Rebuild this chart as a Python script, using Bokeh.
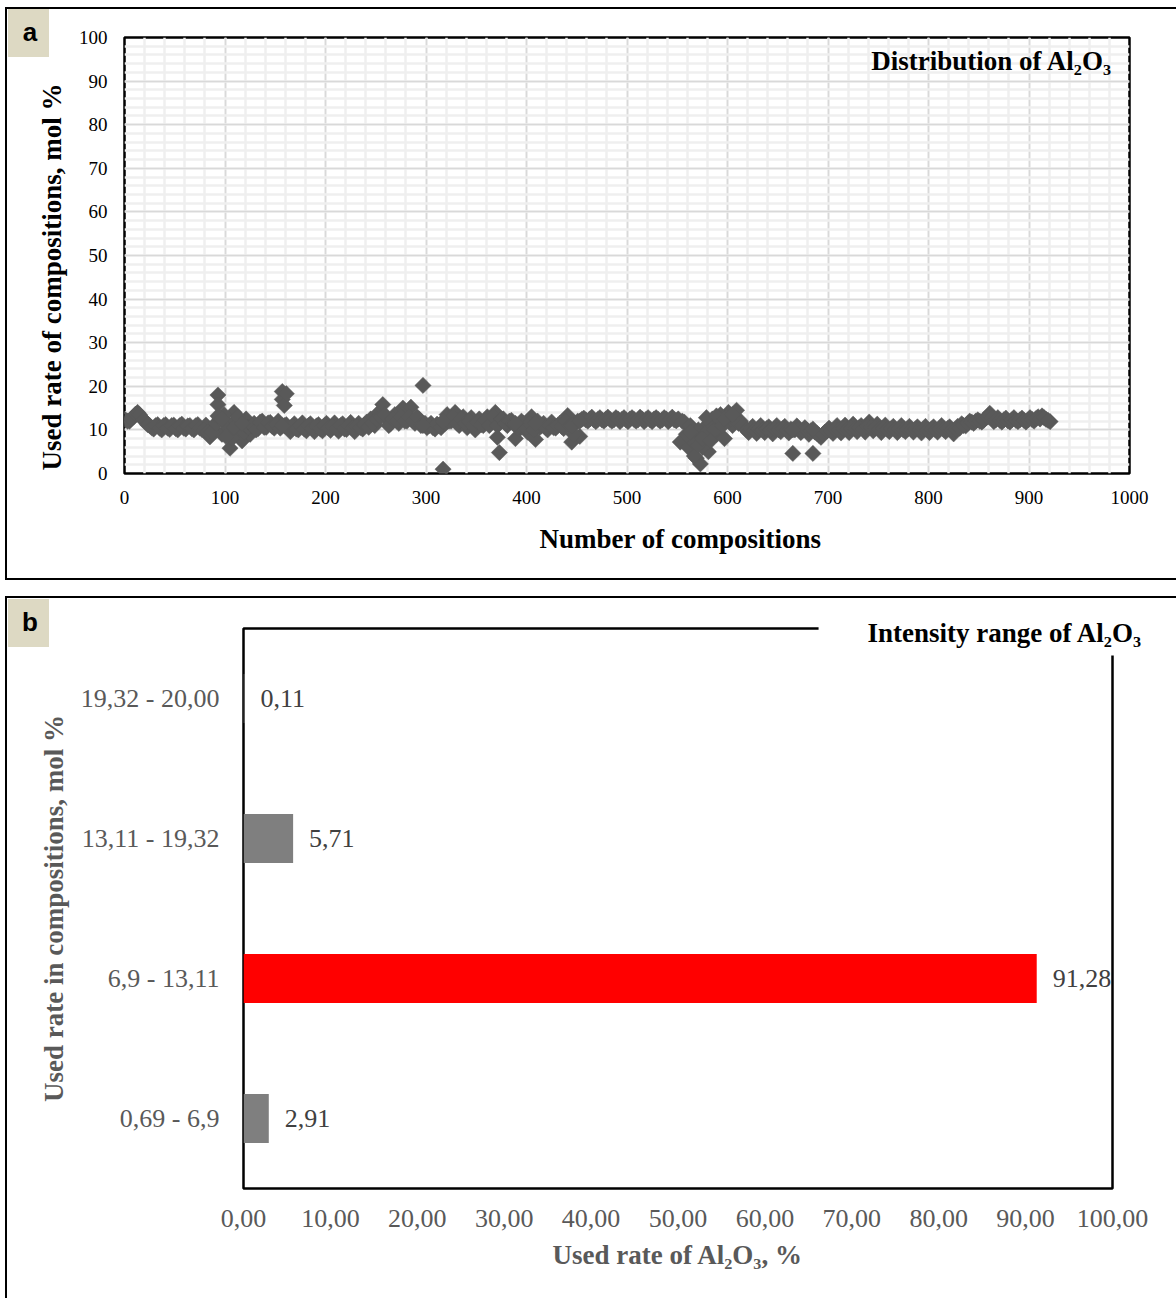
import numpy as np
from bokeh.core.properties import value
from bokeh.embed import file_html
from bokeh.models import (ColumnDataSource, Div, FactorRange, FixedTicker, Label,
                          LabelSet, Range1d, SingleIntervalTicker, Title)
from bokeh.plotting import figure
from bokeh.resources import INLINE

SERIF = "Liberation Serif"
SANS = "Liberation Sans"

# ---- panel a: Al2O3 content of every composition (mol %) ----
comp_no = [
    1, 5, 9, 13, 17, 21, 25, 29, 33, 37,
    41, 45, 49, 53, 57, 61, 65, 69, 73, 77,
    81, 85, 89, 93, 97, 101, 105, 109, 113, 117,
    121, 125, 129, 133, 137, 141, 145, 149, 153, 157,
    161, 165, 169, 173, 177, 181, 185, 189, 193, 197,
    201, 205, 209, 213, 217, 221, 225, 229, 233, 237,
    241, 245, 249, 253, 257, 261, 265, 269, 273, 277,
    281, 285, 289, 293, 297, 301, 305, 309, 313, 317,
    321, 325, 329, 333, 337, 341, 345, 349, 353, 357,
    361, 365, 369, 373, 377, 381, 385, 389, 393, 397,
    401, 405, 409, 413, 417, 421, 425, 429, 433, 437,
    441, 445, 449, 453, 457, 461, 465, 469, 473, 477,
    481, 485, 489, 493, 497, 501, 505, 509, 513, 517,
    521, 525, 529, 533, 537, 541, 545, 549, 553, 557,
    561, 565, 569, 573, 577, 581, 585, 589, 593, 597,
    601, 605, 609, 613, 617, 621, 625, 629, 633, 637,
    641, 645, 649, 653, 657, 661, 665, 669, 673, 677,
    681, 685, 689, 693, 697, 701, 705, 709, 713, 717,
    721, 725, 729, 733, 737, 741, 745, 749, 753, 757,
    761, 765, 769, 773, 777, 781, 785, 789, 793, 797,
    801, 805, 809, 813, 817, 821, 825, 829, 833, 837,
    841, 845, 849, 853, 857, 861, 865, 869, 873, 877,
    881, 885, 889, 893, 897, 901, 905, 909, 913, 917,
    921,
]
al2o3_mol = [
    12.3, 12.0, 13.0, 14.0, 12.8, 11.8, 11.0, 10.2, 11.2, 10.0,
    11.2, 10.1, 11.1, 10.0, 11.3, 10.2, 11.0, 10.0, 11.2, 10.1,
    11.1, 8.4, 10.0, 18.0, 9.0, 12.0, 5.8, 14.0, 10.0, 7.5,
    12.5, 9.0, 11.5, 10.3, 12.0, 10.6, 11.7, 10.4, 12.0, 18.8,
    11.2, 9.6, 11.4, 10.0, 11.6, 9.8, 11.4, 9.6, 11.2, 9.8,
    11.5, 9.9, 11.6, 9.7, 11.4, 10.1, 11.7, 9.6, 11.5, 10.2,
    11.8, 12.5, 11.0, 14.0, 15.8, 12.8, 11.5, 13.5, 11.5, 15.0,
    12.0, 15.2, 11.5, 12.5, 20.2, 10.5, 11.5, 10.2, 11.0, 1.0,
    13.5, 12.0, 14.0, 11.0, 13.0, 10.5, 12.8, 10.0, 12.5, 11.0,
    13.0, 12.0, 14.0, 11.5, 12.5, 11.0, 12.2, 8.0, 10.2, 11.5,
    9.5, 13.0, 7.8, 10.5, 11.5, 10.0, 11.8, 10.4, 11.5, 10.3,
    13.3, 7.2, 11.5, 8.5, 12.7, 12.0, 12.9, 11.9, 12.8, 12.0,
    12.9, 12.0, 12.8, 11.9, 12.8, 11.9, 12.8, 12.0, 12.9, 11.9,
    12.8, 11.9, 12.8, 12.0, 12.8, 11.9, 12.9, 12.1, 7.2, 11.8,
    6.0, 8.5, 3.5, 2.2, 10.5, 5.0, 12.5, 9.0, 13.5, 8.0,
    14.0, 11.0, 14.5, 12.0, 10.5, 9.4, 10.8, 9.2, 11.0, 9.4,
    10.7, 9.1, 11.0, 9.6, 10.8, 9.3, 4.6, 10.9, 9.4, 10.5,
    9.0, 4.6, 9.2, 8.3, 9.5, 10.4, 9.2, 11.0, 9.3, 11.1,
    9.4, 11.3, 9.6, 11.0, 9.5, 11.8, 9.8, 11.3, 9.4, 11.1,
    9.6, 10.8, 9.4, 11.0, 9.6, 10.8, 9.5, 10.7, 9.3, 10.8,
    9.4, 10.7, 9.5, 11.0, 9.6, 10.7, 9.1, 10.8, 11.4, 10.9,
    12.0, 11.5, 12.3, 11.8, 12.7, 13.8, 11.9, 12.8, 11.8, 12.7,
    11.8, 12.8, 11.9, 12.7, 11.8, 12.8, 12.0, 13.0, 13.2, 12.4,
    11.9,
]
# the compositions numbered in between
comp_no_mid = [
    3, 7, 11, 15, 19, 23, 27, 31, 35, 39,
    43, 47, 51, 55, 59, 63, 67, 71, 75, 79,
    83, 87, 91, 95, 99, 103, 107, 111, 115, 119,
    123, 127, 131, 135, 139, 143, 147, 151, 155, 159,
    163, 167, 171, 175, 179, 183, 187, 191, 195, 199,
    203, 207, 211, 215, 219, 223, 227, 231, 235, 239,
    243, 247, 251, 255, 259, 263, 267, 271, 275, 279,
    283, 287, 291, 295, 299, 303, 307, 311, 315, 319,
    323, 327, 331, 335, 339, 343, 347, 351, 355, 359,
    363, 367, 371, 375, 379, 383, 387, 391, 395, 399,
    403, 407, 411, 415, 419, 423, 427, 431, 435, 439,
    443, 447, 451, 455, 459, 463, 467, 471, 475, 479,
    483, 487, 491, 495, 499, 503, 507, 511, 515, 519,
    523, 527, 531, 535, 539, 543, 547, 551, 555, 559,
    563, 567, 571, 575, 579, 583, 587, 591, 595, 599,
    603, 607, 611, 615, 619, 623, 627, 631, 635, 639,
    643, 647, 651, 655, 659, 663, 667, 671, 675, 679,
    683, 687, 691, 695, 699, 703, 707, 711, 715, 719,
    723, 727, 731, 735, 739, 743, 747, 751, 755, 759,
    763, 767, 771, 775, 779, 783, 787, 791, 795, 799,
    803, 807, 811, 815, 819, 823, 827, 831, 835, 839,
    843, 847, 851, 855, 859, 863, 867, 871, 875, 879,
    883, 887, 891, 895, 899, 903, 907, 911, 915, 919,
]
al2o3_mol_mid = [
    12.0, 12.6, 13.6, 13.5, 12.3, 11.2, 10.5, 11.0, 10.4, 11.0,
    10.4, 11.0, 10.3, 11.0, 10.4, 10.9, 10.3, 11.0, 10.4, 10.0,
    9.5, 9.5, 11.5, 12.5, 13.5, 10.5, 8.0, 12.0, 11.0, 9.5,
    10.5, 11.0, 10.0, 11.8, 10.6, 11.6, 10.8, 11.2, 10.4, 11.0,
    10.4, 10.8, 10.2, 11.0, 10.2, 11.0, 10.3, 10.9, 10.2, 11.0,
    10.4, 10.8, 10.3, 11.0, 10.2, 11.0, 10.4, 10.8, 10.5, 11.2,
    10.6, 11.5, 12.5, 13.0, 13.5, 11.0, 12.5, 12.0, 13.0, 12.0,
    13.0, 12.0, 13.0, 11.0, 11.5, 11.0, 10.5, 11.3, 10.5, 11.5,
    12.0, 13.0, 11.5, 12.5, 11.5, 12.0, 11.0, 11.8, 11.2, 12.2,
    11.0, 13.0, 11.0, 12.5, 11.5, 12.0, 11.5, 10.5, 12.0, 10.5,
    11.5, 10.0, 12.0, 11.0, 10.5, 11.0, 10.5, 11.0, 10.8, 12.0,
    11.0, 9.0, 12.0, 12.4, 12.3, 12.5, 12.3, 12.4, 12.3, 12.5,
    12.4, 12.3, 12.5, 12.4, 12.3, 12.5, 12.4, 12.3, 12.5, 12.4,
    12.3, 12.5, 12.4, 12.3, 12.5, 12.4, 12.3, 12.5, 12.0, 9.0,
    11.0, 7.0, 10.0, 6.0, 9.5, 11.5, 10.0, 12.5, 11.0, 13.0,
    12.5, 13.0, 11.5, 11.0, 10.0, 10.2, 9.9, 10.2, 10.0, 10.3,
    10.0, 10.2, 10.0, 10.3, 9.9, 10.2, 10.0, 10.2, 9.9, 10.0,
    9.8, 9.5, 8.8, 9.0, 9.8, 9.8, 10.2, 10.0, 10.3, 10.1,
    10.4, 10.3, 10.5, 10.2, 10.8, 10.6, 10.5, 10.2, 10.4, 10.1,
    10.3, 10.1, 10.3, 10.0, 10.2, 10.1, 10.2, 10.0, 10.2, 10.0,
    10.2, 10.0, 10.2, 10.1, 10.3, 10.0, 10.2, 10.4, 11.0, 11.5,
    11.8, 12.0, 12.0, 12.2, 13.0, 12.8, 12.3, 12.2, 12.3, 12.1,
    12.3, 12.2, 12.3, 12.2, 12.3, 12.4, 12.6, 12.5, 12.8, 12.2,
]
# compositions that share an index range with the ones above
extra_no = [93, 93, 97, 101, 109, 113, 117, 157, 157, 159, 161, 297, 317, 371,
            373, 389, 409, 445, 453, 563, 567, 571, 575, 579, 583, 589, 597,
            605, 665, 685]
extra_mol = [15.8, 13.2, 12.5, 8.5, 10.5, 13.0, 11.5, 11.0, 17.0, 15.6, 18.3,
             11.0, 12.0, 8.3, 4.8, 11.5, 11.5, 11.0, 12.0, 9.5, 4.0, 6.5, 8.0,
             12.8, 7.5, 13.2, 12.5, 13.5, 10.0, 10.2]

# ---- panel b: share of compositions per Al2O3 interval ----
range_labels = ["0,69 - 6,9", "6,9 - 13,11", "13,11 - 19,32", "19,32 - 20,00"]
range_share = [2.91, 91.28, 5.71, 0.11]
range_colors = ["#7f7f7f", "#ff0000", "#7f7f7f", "#7f7f7f"]
share_ticks = [0, 10, 20, 30, 40, 50, 60, 70, 80, 90, 100]

BOLD_PX = "27px"


def comma(v):
    return f"{v:.2f}".replace(".", ",")


def panel_frame(top, height, bottom_line):
    """Thin black frame around one panel of the page."""
    styles = {"position": "absolute", "left": "5px", "top": f"{top}px",
              "border-left": "2px solid black", "border-top": "2px solid black",
              "box-sizing": "border-box", "pointer-events": "none"}
    if bottom_line:
        styles["border-bottom"] = "2px solid black"
    return Div(text="", width=1171, height=height, margin=0, styles=styles)


def panel_tag(letter, top):
    """Beige letter tag in the panel's top-left corner."""
    return Div(text=letter, width=41, height=48, margin=0,
               styles={"position": "absolute", "left": "8px", "top": f"{top}px",
                       "background-color": "#ddd9c3", "color": "black",
                       "font-family": SANS, "font-weight": "bold",
                       "font-size": "26px", "line-height": "46px",
                       "text-align": "center", "padding-left": "3px",
                       "box-sizing": "border-box"})


# ================= panel a =================
pa = figure(width=1176, height=590, x_range=Range1d(0, 1000), y_range=Range1d(0, 100),
            output_backend="svg", toolbar_location=None,
            min_border_left=124, min_border_right=47, min_border_top=37,
            min_border_bottom=117)
pa.outline_line_color = "black"
pa.outline_line_width = 2.5

src_a = ColumnDataSource(dict(n=comp_no + comp_no_mid + extra_no,
                              mol=al2o3_mol + al2o3_mol_mid + extra_mol))
pa.scatter(x="n", y="mol", source=src_a, marker="square", angle=np.pi / 4,
           size=11.5, fill_color="#595959", line_color="#595959", line_width=0.5)

pa.xaxis.ticker = SingleIntervalTicker(interval=100, num_minor_ticks=5)
pa.yaxis.ticker = SingleIntervalTicker(interval=10, num_minor_ticks=5)
for ax in (pa.xaxis[0], pa.yaxis[0]):
    ax.axis_line_color = None
    ax.major_tick_line_color = None
    ax.minor_tick_line_color = None
    ax.major_tick_out = 0
    ax.minor_tick_out = 0
    ax.major_label_text_font = SERIF
    ax.major_label_text_font_size = "19px"
    ax.major_label_text_color = "black"
pa.xaxis.major_label_standoff = 17
pa.yaxis.major_label_standoff = 17

for g in (pa.xgrid[0], pa.ygrid[0]):
    g.grid_line_color = "#d9d9d9"
    g.grid_line_width = 1.5
    g.minor_grid_line_color = "#efefef"
    g.minor_grid_line_width = 2.5

pa.add_layout(Title(text="Number of compositions", align="left", offset=415,
                    text_font=SERIF, text_font_size=BOLD_PX, text_font_style="bold",
                    text_color="black", standoff=31), "below")
pa.add_layout(Title(text="Used rate of compositions, mol %", align="left", offset=3,
                    text_font=SERIF, text_font_size=BOLD_PX, text_font_style="bold",
                    text_color="black", standoff=18), "left")

pa.add_layout(Label(x=1112, y=60, x_units="canvas", y_units="canvas",
                    text="Distribution of Al₂O₃", text_align="right",
                    text_baseline="middle", text_font=SERIF, text_font_size=BOLD_PX,
                    text_font_style="bold", text_color="black"))

# ================= panel b =================
pb = figure(width=1176, height=708, x_range=Range1d(0, 100),
            y_range=FactorRange(factors=range_labels, range_padding=0),
            output_backend="svg", toolbar_location=None,
            min_border_left=243, min_border_right=64, min_border_top=38,
            min_border_bottom=110)
pb.outline_line_color = "black"
pb.outline_line_width = 2.5
pb.xgrid.visible = False
pb.ygrid.visible = False

src_b = ColumnDataSource(dict(rng=range_labels, share=range_share, color=range_colors,
                              txt=[comma(v) for v in range_share]))
pb.hbar(y="rng", left=0, right="share", height=0.35, source=src_b,
        fill_color="color", line_color=None)
pb.add_layout(LabelSet(x="share", y="rng", text="txt", source=src_b, x_offset=16,
                       text_baseline="middle", text_font=value(SERIF),
                       text_font_size="26px", text_color="#404040"))

pb.xaxis.ticker = FixedTicker(ticks=share_ticks)
pb.xaxis.major_label_overrides = {t: comma(t) for t in share_ticks}
for ax in (pb.xaxis[0], pb.yaxis[0]):
    ax.axis_line_color = None
    ax.major_tick_line_color = None
    ax.minor_tick_line_color = None
    ax.major_tick_out = 0
    ax.minor_tick_out = 0
    ax.major_label_text_font = SERIF
    ax.major_label_text_font_size = "26px"
    ax.major_label_text_color = "#595959"
    ax.axis_label_text_font = SERIF
    ax.axis_label_text_font_size = BOLD_PX
    ax.axis_label_text_font_style = "bold"
    ax.axis_label_text_color = "#595959"
pb.xaxis.major_label_standoff = 21
pb.yaxis.major_label_standoff = 24
pb.xaxis.axis_label = "Used rate of Al₂O₃, %"
pb.yaxis.axis_label = "Used rate in compositions, mol %"
pb.xaxis.axis_label_standoff = 10
pb.yaxis.axis_label_standoff = 9

# heading that sits on the frame's top-right corner, breaking the outline
pb.add_layout(Title(text="Intensity range of Al₂O₃", align="right", offset=-40,
                    standoff=-54, padding=(49, 10, 6, 8),
                    background_fill_color="white",
                    text_font=SERIF, text_font_size=BOLD_PX, text_font_style="bold",
                    text_color="black"), "above")

frame_a = panel_frame(7, 573, True)
frame_b = panel_frame(596, 702, False)
tag_a = panel_tag("a", 9)
tag_b = panel_tag("b", 599)

open("out.html", "w").write(file_html([pa, pb, frame_a, frame_b, tag_a, tag_b], INLINE))
